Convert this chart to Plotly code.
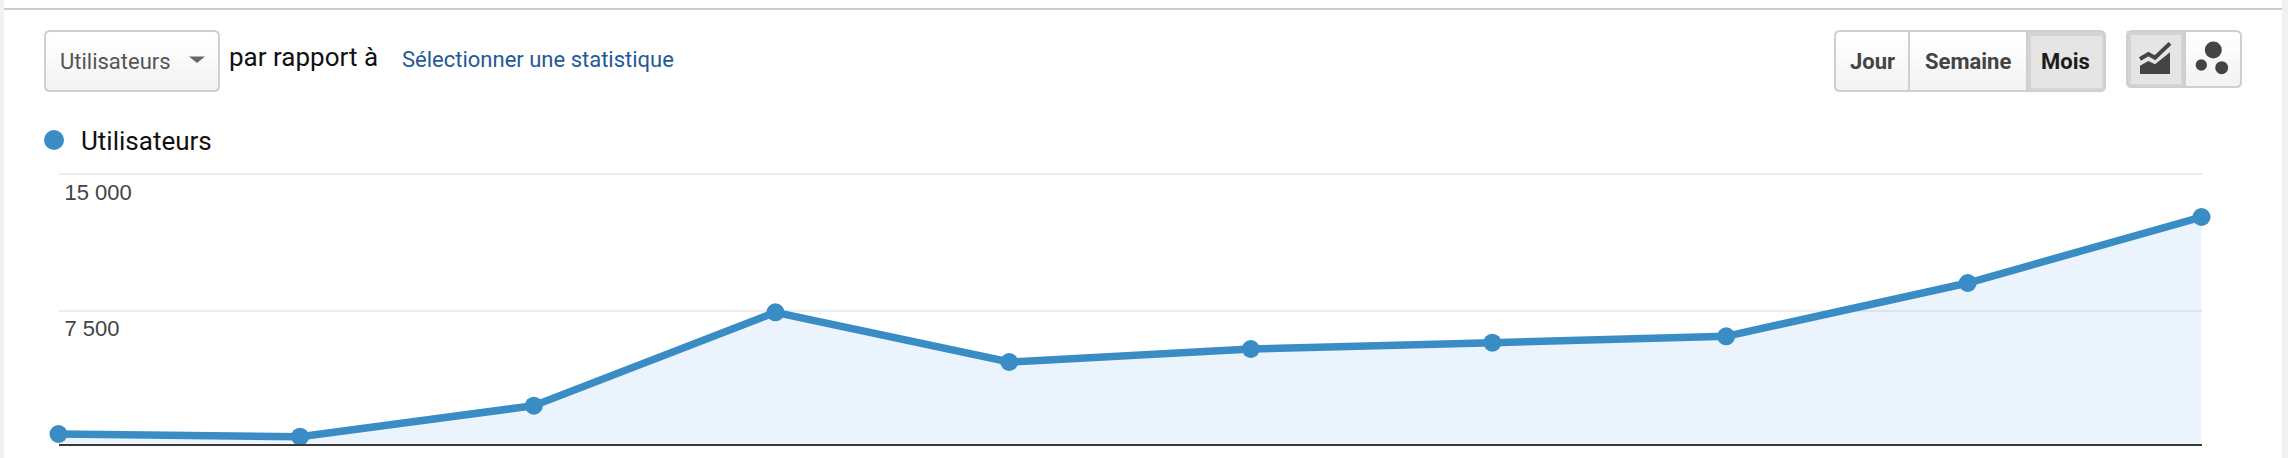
import plotly.graph_objects as go

# Data
months = ["2017-03-01", "2017-04-01", "2017-05-01", "2017-06-01", "2017-07-01",
          "2017-08-01", "2017-09-01", "2017-10-01", "2017-11-01", "2017-12-01"]
users = [735, 587, 2288, 7412, 4685, 5398, 5744, 6095, 9019, 12640]
tick_values = [7500, 15000]
tick_labels = ["7 500", "15 000"]
series_name = "Utilisateurs"

W, H = 2288, 458
FONT = "Roboto"
BLUE = "#3a8cc4"


def px(x):
    return x / W


def py(y):
    return 1 - y / H


def pt(x, y):
    return f"{px(x):.6f} {py(y):.6f}"


def rrect_path(x0, y0, x1, y1, r):
    return (f"M {pt(x0 + r, y0)} L {pt(x1 - r, y0)} Q {pt(x1, y0)} {pt(x1, y0 + r)} "
            f"L {pt(x1, y1 - r)} Q {pt(x1, y1)} {pt(x1 - r, y1)} "
            f"L {pt(x0 + r, y1)} Q {pt(x0, y1)} {pt(x0, y1 - r)} "
            f"L {pt(x0, y0 + r)} Q {pt(x0, y0)} {pt(x0 + r, y0)} Z")


def poly(points):
    return "M " + " L ".join(pt(x, y) for x, y in points)


shapes = []


def rect(x0, y0, x1, y1, fill, line=None, lw=0):
    shapes.append(dict(type="rect", xref="paper", yref="paper", layer="below",
                       x0=px(x0), x1=px(x1), y0=py(y1), y1=py(y0), fillcolor=fill,
                       line=dict(color=line or fill, width=lw)))


def path(d, fill=None, line=None, lw=0):
    s = dict(type="path", xref="paper", yref="paper", layer="below", path=d,
             line=dict(color=line or "rgba(0,0,0,0)", width=lw))
    if fill:
        s["fillcolor"] = fill
    shapes.append(s)


def circle(cx, cy, r, fill):
    shapes.append(dict(type="circle", xref="paper", yref="paper", layer="below",
                       x0=px(cx - r), x1=px(cx + r), y0=py(cy + r), y1=py(cy - r),
                       fillcolor=fill, line=dict(width=0)))


def gradient(x0, y0, x1, y1, top=255, bottom=243, bands=8):
    h = (y1 - y0) / bands
    for i in range(bands):
        v = round(top + (bottom - top) * i / (bands - 1))
        c = f"rgb({v},{v},{v})"
        rect(x0, y0 + i * h, x1, y0 + (i + 1) * h + 0.5, c)


BORDER = "#cfcfcf"

# Page frame
rect(0, 0, 4, H, "#f1f1f1")
rect(2282, 0, W, H, "#f1f1f1")
rect(4, 8, 2282, 10, "#cccccc")

# Dropdown
gradient(46, 32, 218, 90)
path(rrect_path(45, 31, 219, 91, 5), line=BORDER, lw=2)
path(poly([(189, 56.5), (205, 56.5), (197, 63)]) + " Z", fill="#666666")

# Period buttons
gradient(1836, 32, 2027, 90)
rect(2027, 32, 2105, 90, "#d4d4d4")
rect(2031, 36, 2102, 88, "#e5e5e5")
rect(1908, 32, 1910, 90, BORDER)
rect(2026, 32, 2028, 90, BORDER)
path(rrect_path(1835, 31, 2105, 91, 5), line=BORDER, lw=2)

# View buttons
gradient(2186, 32, 2240, 86)
rect(2127, 31, 2185, 86, "#d4d4d4")
rect(2131, 35, 2181, 84, "#e5e5e5")
rect(2183, 31, 2186, 86, BORDER)
path(rrect_path(2127, 31, 2241, 87, 5), line=BORDER, lw=2)

# Area icon
ix = lambda v: 2120 + v / 3
iy = lambda v: 25 + v / 3
path(poly([(ix(60), iy(147)), (ix(60), iy(122)), (ix(85), iy(108)), (ix(105), iy(118)),
           (ix(150), iy(82)), (ix(150), iy(147))]) + " Z", fill="#444444")
path(poly([(ix(60), iy(102)), (ix(85), iy(87)), (ix(105), iy(98)), (ix(150), iy(55))]),
     line="#444444", lw=4)

# Scatter icon
circle(2213.3, 50, 8.5, "#444444")
circle(2201.3, 65, 5.7, "#444444")
circle(2221.7, 67.7, 6.5, "#444444")

# Legend dot
circle(54, 140, 10, BLUE)


def text(x, y, s, size, color, anchor="left", bold=False):
    return dict(xref="paper", yref="paper", x=px(x), y=py(y), text=f"<b>{s}</b>" if bold else s,
                showarrow=False, xanchor=anchor, yanchor="middle",
                font=dict(family=FONT, size=size, color=color),
                borderpad=0, borderwidth=0)


annotations = [
    text(59.5, 61, series_name, 22, "#555555"),
    text(229, 56.5, "par rapport à", 26, "#111111"),
    text(401.5, 60, "Sélectionner une statistique", 22, "#235a96"),
    text(81, 141, series_name, 26, "#111111"),
    text(1872, 61, "Jour", 22, "#444444", "center", True),
    text(1968, 61, "Semaine", 22, "#444444", "center", True),
    text(2065, 61, "Mois", 22, "#1c1c1c", "center", True),
]

fig = go.Figure(go.Scatter(
    x=months, y=users, name=series_name, mode="lines+markers",
    line=dict(color=BLUE, width=7.5),
    marker=dict(color=BLUE, size=18),
    fill="tozeroy", fillcolor="rgba(40,130,220,0.095)",
    cliponaxis=False,
))

fig.update_layout(
    width=W, height=H, autosize=False,
    margin=dict(l=0, r=0, t=0, b=0, pad=0),
    paper_bgcolor="white", plot_bgcolor="white",
    showlegend=False,
    shapes=shapes, annotations=annotations,
    xaxis=dict(type="date", domain=[px(58.5), px(2201.5)],
               range=[months[0], months[-1]],
               showgrid=False, zeroline=False, showticklabels=False, ticks="",
               showline=True, linecolor="#3a3a3a", linewidth=2),
    yaxis=dict(domain=[1 - 443.7 / H, 1 - 170 / H], range=[203, 15219],
               tickvals=tick_values, ticktext=tick_labels,
               ticklabelposition="inside", ticklabelshift=18, ticklabelstandoff=3,
               tickfont=dict(family="Liberation Sans", size=22, color="#444444"),
               showgrid=True, gridcolor="#eeeeee", gridwidth=2,
               zeroline=False, ticks="", showline=False),
)

fig.write_html(
    "out.html",
    config=dict(displayModeBar=False),
    post_script="document.body.style.margin='0';document.documentElement.style.overflow='hidden';",
)
